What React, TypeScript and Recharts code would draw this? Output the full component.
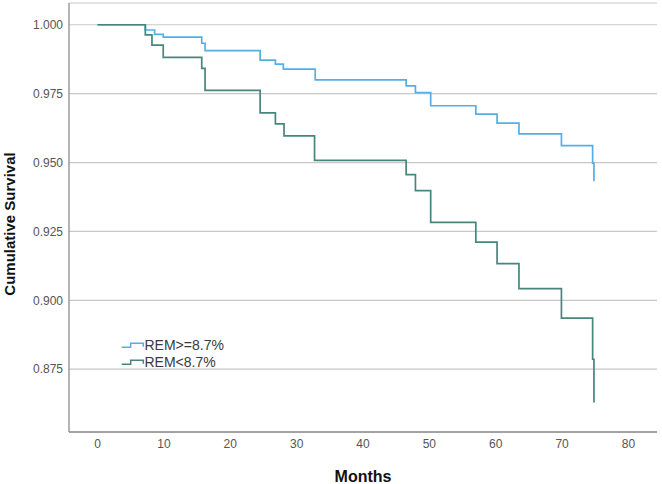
import { LineChart, Line, XAxis, YAxis, CartesianGrid } from "recharts";

// Kaplan-Meier estimates, one entry per event time (months)
const highTimes = [0, 7.2, 8.6, 9.9, 15.7, 16.2, 24.5, 26.8, 28.0, 32.8, 46.5, 47.9, 50.2, 57.0, 60.2, 63.5, 69.9, 74.6, 74.8];
const highSurvival = [1.0, 0.9981, 0.9965, 0.9955, 0.9933, 0.9906, 0.9872, 0.9857, 0.9839, 0.98, 0.9778, 0.9754, 0.9706, 0.9676, 0.9643, 0.9604, 0.9561, 0.9498, 0.9432];

const lowTimes = [0, 7.2, 8.2, 9.9, 15.7, 16.2, 24.5, 26.8, 28.1, 32.7, 46.5, 47.9, 50.2, 57.0, 60.2, 63.5, 69.9, 74.6, 74.8];
const lowSurvival = [1.0, 0.9963, 0.9926, 0.9882, 0.9842, 0.9762, 0.968, 0.964, 0.9597, 0.9508, 0.9456, 0.9398, 0.9283, 0.9211, 0.9133, 0.9042, 0.8935, 0.8786, 0.8629];

const xTicks = [0, 10, 20, 30, 40, 50, 60, 70, 80];
const yTicks = [0.875, 0.9, 0.925, 0.95, 0.975, 1.0];

const groups = [
  { name: "REM>=8.7%", color: "#55aee6", times: highTimes, survival: highSurvival },
  { name: "REM<8.7%", color: "#46867d", times: lowTimes, survival: lowSurvival },
];

const FONT = "'Liberation Sans', Arial, sans-serif";

const seriesData = groups.map((g) => ({
  ...g,
  points: g.times.map((t, i) => ({ t, s: g.survival[i] })),
}));

// chart fills the page edge to edge
if (typeof document !== "undefined") document.body.style.margin = "0";

// axis titles plus the SPSS-style legend (step glyph in front of each group)
function Overlay() {
  return (
    <svg
      width={662}
      height={484}
      style={{ position: "absolute", left: 0, top: 0, pointerEvents: "none" }}
    >
      <text
        x={14.5}
        y={224}
        transform="rotate(-90 14.5 224)"
        textAnchor="middle"
        fontFamily={FONT}
        fontWeight="bold"
        fontSize={15}
        fill="#111"
      >
        Cumulative Survival
      </text>
      <text x={363} y={482} textAnchor="middle" fontFamily={FONT} fontWeight="bold" fontSize={16} fill="#111">
        Months
      </text>
      {groups.map((g, i) => {
        const base = i === 0 ? 347.3 : 364.3;
        return (
          <g key={g.name}>
            <path
              d={`M121.7 ${base} H130.7 V${base - 4} H143.3 V${base - 0.5}`}
              fill="none"
              stroke={g.color}
              strokeWidth={1.5}
            />
            <text x={144.5} y={base + 3} fontFamily={FONT} fontSize={14} fill="#3a3a3a">
              {g.name}
            </text>
          </g>
        );
      })}
    </svg>
  );
}

export default function App() {
  return (
    <div style={{ width: 662, height: 484, background: "#fff", position: "relative" }}>
      <LineChart width={662} height={484} margin={{ top: 3, right: 5, left: 9, bottom: 22 }}>
        <CartesianGrid vertical={false} stroke="#c8c8c8" strokeWidth={1.2} />
        <XAxis
          type="number"
          dataKey="t"
          domain={[-4.3, 84.3]}
          ticks={xTicks}
          allowDataOverflow
          height={30}
          tickLine={false}
          tickMargin={1}
          axisLine={{ stroke: "#8c8c8c", strokeWidth: 1.3 }}
          tick={{ fontSize: 12, fill: "#555", fontFamily: FONT }}
        />
        <YAxis
          type="number"
          dataKey="s"
          domain={[0.8522, 1.0079]}
          ticks={yTicks}
          allowDataOverflow
          width={60}
          tickLine={false}
          tickMargin={0}
          axisLine={{ stroke: "#8c8c8c", strokeWidth: 1.3 }}
          tick={{ fontSize: 12, fill: "#555", fontFamily: FONT }}
          tickFormatter={(v: number) => v.toFixed(3)}
        />
        {seriesData.map((g) => (
          <Line
            key={g.name}
            name={g.name}
            data={g.points}
            dataKey="s"
            type="stepAfter"
            stroke={g.color}
            strokeWidth={1.7}
            dot={false}
            activeDot={false}
            isAnimationActive={false}
          />
        ))}
      </LineChart>
      <Overlay />
    </div>
  );
}
